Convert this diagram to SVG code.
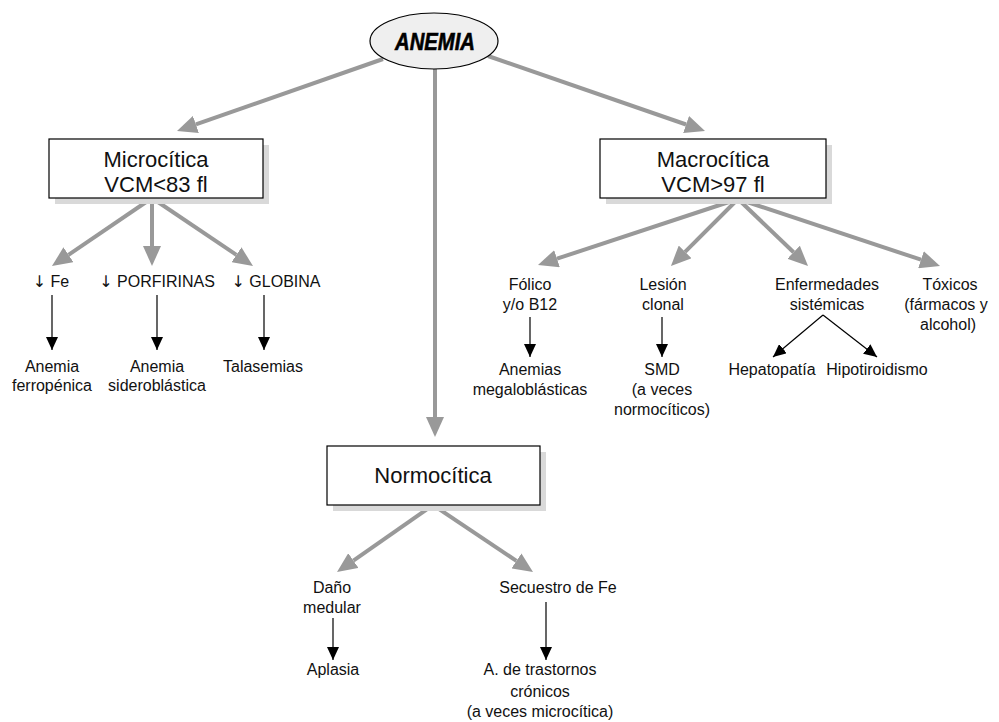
<svg xmlns="http://www.w3.org/2000/svg" width="999" height="722" viewBox="0 0 999 722">
<defs>
<marker id="ga" markerUnits="userSpaceOnUse" markerWidth="20" markerHeight="18" refX="0" refY="9" orient="auto" viewBox="0 0 20 18"><path d="M0,0 L20,9 L0,18 z" fill="#999"/></marker>
<marker id="ba" markerUnits="userSpaceOnUse" markerWidth="13" markerHeight="12" refX="13" refY="6" orient="auto" viewBox="0 0 13 12"><path d="M0,0 L13,6 L0,12 z" fill="#000"/></marker>
</defs>
<style>
text{font-family:"Liberation Sans",Arial,sans-serif;fill:#111;text-anchor:middle}
.t{font-size:16px}
.b{font-size:22px}
.ar{font-family:"DejaVu Sans",sans-serif;fill:#111}
.box{fill:#fff;stroke:#000;stroke-width:1.2}
.sh{fill:#d9d9d9}
.g{stroke:#999;stroke-width:4;fill:none;marker-end:url(#ga)}
.k{stroke:#000;stroke-width:1.2;fill:none;marker-end:url(#ba)}
</style>
<rect width="999" height="722" fill="#fff"/>
<g id="connectors">
<line class="g" x1="383" y1="59" x2="195.9" y2="124.4"/>
<line class="g" x1="488" y1="56" x2="686.1" y2="124.5"/>
<line class="g" x1="435" y1="69" x2="435" y2="417"/>
<line class="g" x1="152" y1="198" x2="68.5" y2="254.8"/>
<line class="g" x1="152" y1="198" x2="152" y2="246"/>
<line class="g" x1="152" y1="198" x2="236.4" y2="254.8"/>
<line class="g" x1="738" y1="199" x2="557" y2="258.7"/>
<line class="g" x1="738" y1="199" x2="685.1" y2="251.9"/>
<line class="g" x1="738" y1="199" x2="793.6" y2="252.2"/>
<line class="g" x1="738" y1="199" x2="921" y2="259.7"/>
<line class="g" x1="433" y1="505" x2="353.4" y2="560.6"/>
<line class="g" x1="433" y1="505" x2="516.4" y2="560.9"/>
<line class="k" x1="52" y1="295" x2="52" y2="350"/>
<line class="k" x1="157" y1="295" x2="157" y2="350"/>
<line class="k" x1="264" y1="295" x2="264" y2="350"/>
<line class="k" x1="530" y1="317" x2="530" y2="357"/>
<line class="k" x1="662" y1="317" x2="662" y2="357"/>
<line class="k" x1="823" y1="315" x2="773" y2="357"/>
<line class="k" x1="823" y1="315" x2="877" y2="357"/>
<line class="k" x1="333" y1="618" x2="333" y2="660"/>
<line class="k" x1="546" y1="602" x2="546" y2="660"/>
</g>
<g id="anemia">
<ellipse cx="434" cy="41" rx="64" ry="28" fill="#efefef" stroke="#000" stroke-width="1.2"/>
<text x="435" y="50" font-size="24" font-weight="bold" font-style="italic" textLength="80" lengthAdjust="spacingAndGlyphs" style="fill:#000;stroke:#000;stroke-width:0.6">ANEMIA</text>
</g>
<g id="microcitica">
<rect class="sh" x="55" y="145" width="214" height="59"/>
<rect class="box" x="49" y="139" width="214" height="59"/>
<text class="b" x="156" y="167">Microcítica</text>
<text class="b" x="156" y="192">VCM&lt;83 fl</text>
</g>
<g id="macrocitica">
<rect class="sh" x="606" y="145" width="226" height="59"/>
<rect class="box" x="600" y="139" width="226" height="59"/>
<text class="b" x="713" y="167">Macrocítica</text>
<text class="b" x="713" y="192">VCM&gt;97 fl</text>
</g>
<g id="normocitica">
<rect class="sh" x="333" y="452" width="213" height="59"/>
<rect class="box" x="327" y="446" width="213" height="59"/>
<text class="b" x="433" y="483">Normocítica</text>
</g>
<g id="fe"><text class="t" x="51" y="287"><tspan class="ar">↓</tspan> Fe</text></g>
<g id="porfirinas"><text class="t" x="157" y="287"><tspan class="ar">↓</tspan> PORFIRINAS</text></g>
<g id="globina"><text class="t" x="276" y="287"><tspan class="ar">↓</tspan> GLOBINA</text></g>
<g id="ferropenica"><text class="t" x="52" y="372">Anemia</text><text class="t" x="52" y="391">ferropénica</text></g>
<g id="sideroblastica"><text class="t" x="157" y="372">Anemia</text><text class="t" x="157" y="391">sideroblástica</text></g>
<g id="talasemias"><text class="t" x="263" y="372">Talasemias</text></g>
<g id="folico"><text class="t" x="530" y="290">Fólico</text><text class="t" x="530" y="310">y/o B12</text></g>
<g id="lesion"><text class="t" x="663" y="290">Lesión</text><text class="t" x="663" y="310">clonal</text></g>
<g id="enfermedades"><text class="t" x="827" y="290">Enfermedades</text><text class="t" x="827" y="310">sistémicas</text></g>
<g id="toxicos"><text class="t" x="950" y="290">Tóxicos</text><text class="t" x="946" y="310">(fármacos y</text><text class="t" x="948" y="330">alcohol)</text></g>
<g id="megaloblasticas"><text class="t" x="530" y="375">Anemias</text><text class="t" x="530" y="395">megaloblásticas</text></g>
<g id="smd"><text class="t" x="662" y="375">SMD</text><text class="t" x="662" y="395">(a veces</text><text class="t" x="662" y="415">normocíticos)</text></g>
<g id="hepatopatia"><text class="t" x="772" y="375">Hepatopatía</text></g>
<g id="hipotiroidismo"><text class="t" x="877" y="375">Hipotiroidismo</text></g>
<g id="dano"><text class="t" x="332" y="593">Daño</text><text class="t" x="332" y="613">medular</text></g>
<g id="aplasia"><text class="t" x="333" y="675">Aplasia</text></g>
<g id="secuestro"><text class="t" x="558" y="593">Secuestro de Fe</text></g>
<g id="trastornos"><text class="t" x="540" y="675">A. de trastornos</text><text class="t" x="540" y="697">crónicos</text><text class="t" x="540" y="717">(a veces microcítica)</text></g>
</svg>
